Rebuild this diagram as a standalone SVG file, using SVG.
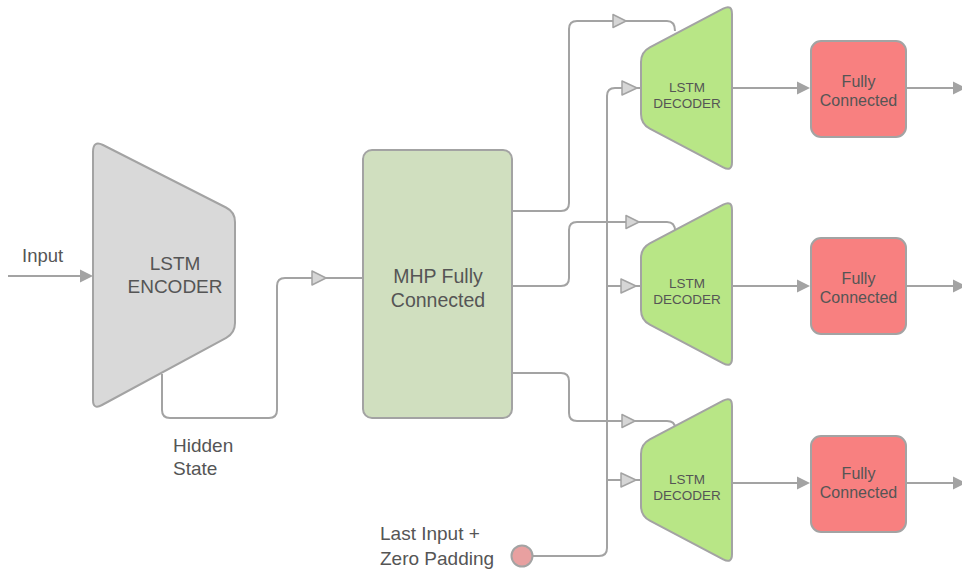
<svg xmlns="http://www.w3.org/2000/svg" width="962" height="571" viewBox="0 0 962 571">
  <style>
    .lbl { font-family: "Liberation Sans", Arial, Helvetica, sans-serif; fill: #555; }
    .wire { fill: none; stroke: #a3a3a3; stroke-width: 2; }
    .tri { fill: #d6d6d6; stroke: #a3a3a3; stroke-width: 1.5; stroke-linejoin: round; }
    .head { fill: #a3a3a3; }
    .shape { stroke: #a3a3a3; stroke-width: 2; stroke-linejoin: round; }
  </style>
  <defs>
    <path id="dec-shape" d="M641,26 V-26 Q641,-36 649.8,-40.7 L723.2,-79.3 Q732,-84 732,-74 V74 Q732,84 723.2,79.3 L649.8,40.7 Q641,36 641,26 Z"/>
  </defs>
  <rect width="962" height="571" fill="#ffffff"/>

  <!-- connectors -->
  <g id="connectors">
    <!-- input -->
    <path class="wire" d="M8,276 H82"/>
    <polygon class="head" points="80,269.5 93,276 80,282.5"/>
    <!-- hidden state into MHP -->
    <path class="wire" d="M162,374 V410 Q162,418 170,418 H269 Q277,418 277,410 V286 Q277,278 285,278 H363"/>
    <polygon class="tri" points="312,271 326,278 312,285"/>
    <!-- MHP to decoder top inputs -->
    <path class="wire" d="M512,211 H561 Q569,211 569,203 V29 Q569,21 577,21 H667 Q675,21 675,31"/>
    <polygon class="tri" points="613,14.5 626,21 613,27.5"/>
    <path class="wire" d="M512,286 H561 Q569,286 569,278 V230 Q569,222 577,222 H667 Q675,222 675,231"/>
    <polygon class="tri" points="626,215.5 639,222 626,228.5"/>
    <path class="wire" d="M512,373 H561 Q569,373 569,381 V413 Q569,421 577,421 H667 Q675,421 675,428"/>
    <polygon class="tri" points="622,414.5 635,421 622,427.5"/>
    <!-- last input + zero padding to decoder side inputs -->
    <path class="wire" d="M533,556 H599 Q607,556 607,548 V96 Q607,88 615,88 H641"/>
    <path class="wire" d="M607,286 H641"/>
    <path class="wire" d="M607,480 H641"/>
    <polygon class="tri" points="622,81 637,88 622,95"/>
    <polygon class="tri" points="621,279 636,286 621,293"/>
    <polygon class="tri" points="621,473 636,480 621,487"/>
    <!-- decoders to fully connected -->
    <path class="wire" d="M732,88 H799"/>
    <polygon class="head" points="797,81.5 810,88 797,94.5"/>
    <path class="wire" d="M732,286 H799"/>
    <polygon class="head" points="797,279.5 810,286 797,292.5"/>
    <path class="wire" d="M732,483 H799"/>
    <polygon class="head" points="797,476.5 810,483 797,489.5"/>
    <!-- outputs -->
    <path class="wire" d="M907,88 H955"/>
    <polygon class="head" points="953,81.5 966,88 953,94.5"/>
    <path class="wire" d="M907,286 H955"/>
    <polygon class="head" points="953,279.5 966,286 953,292.5"/>
    <path class="wire" d="M907,483 H955"/>
    <polygon class="head" points="953,476.5 966,483 953,489.5"/>
  </g>

  <!-- labels without boxes -->
  <g id="input-label">
    <text class="lbl" x="22" y="262" font-size="18.5">Input</text>
  </g>
  <g id="hidden-state-label">
    <text class="lbl" x="173" y="452" font-size="19">Hidden</text>
    <text class="lbl" x="173" y="475" font-size="19">State</text>
  </g>

  <!-- encoder -->
  <g id="encoder">
    <path class="shape" fill="#d9d9d9" d="M93,400 V152 Q93,140 103,145 L226,207.5 Q235,212 235,222 V323 Q235,333 226.2,337.8 L102,405 Q93,410 93,400 Z"/>
    <text class="lbl" x="175" y="270" font-size="19" text-anchor="middle">LSTM</text>
    <text class="lbl" x="175" y="293" font-size="19" text-anchor="middle">ENCODER</text>
  </g>

  <!-- MHP fully connected -->
  <g id="mhp">
    <rect class="shape" fill="#d0dfbf" x="363" y="150" width="149" height="268" rx="9"/>
    <text class="lbl" x="438" y="283" font-size="19.5" text-anchor="middle">MHP Fully</text>
    <text class="lbl" x="438" y="307" font-size="19.5" text-anchor="middle">Connected</text>
  </g>

  <!-- decoders -->
  <g id="decoder-1">
    <use href="#dec-shape" class="shape" fill="#b8e686" transform="translate(0,88)"/>
    <text class="lbl" x="687" y="92" font-size="13.5" text-anchor="middle">LSTM</text>
    <text class="lbl" x="687" y="108" font-size="13.5" text-anchor="middle">DECODER</text>
  </g>
  <g id="decoder-2">
    <use href="#dec-shape" class="shape" fill="#b8e686" transform="translate(0,284)"/>
    <text class="lbl" x="687" y="288" font-size="13.5" text-anchor="middle">LSTM</text>
    <text class="lbl" x="687" y="304" font-size="13.5" text-anchor="middle">DECODER</text>
  </g>
  <g id="decoder-3">
    <use href="#dec-shape" class="shape" fill="#b8e686" transform="translate(0,480)"/>
    <text class="lbl" x="687" y="484" font-size="13.5" text-anchor="middle">LSTM</text>
    <text class="lbl" x="687" y="500" font-size="13.5" text-anchor="middle">DECODER</text>
  </g>

  <!-- fully connected heads -->
  <g id="fc-1">
    <rect class="shape" fill="#f88080" x="811" y="41" width="95" height="96" rx="10"/>
    <text class="lbl" x="858.5" y="87" font-size="16" text-anchor="middle">Fully</text>
    <text class="lbl" x="858.5" y="106" font-size="16" text-anchor="middle">Connected</text>
  </g>
  <g id="fc-2">
    <rect class="shape" fill="#f88080" x="811" y="238" width="95" height="96" rx="10"/>
    <text class="lbl" x="858.5" y="284" font-size="16" text-anchor="middle">Fully</text>
    <text class="lbl" x="858.5" y="303" font-size="16" text-anchor="middle">Connected</text>
  </g>
  <g id="fc-3">
    <rect class="shape" fill="#f88080" x="811" y="436" width="95" height="96" rx="10"/>
    <text class="lbl" x="858.5" y="479" font-size="16" text-anchor="middle">Fully</text>
    <text class="lbl" x="858.5" y="498" font-size="16" text-anchor="middle">Connected</text>
  </g>

  <!-- last input + zero padding source -->
  <g id="padding-source">
    <circle class="shape" fill="#e8a0a0" cx="522" cy="556" r="10.5"/>
    <text class="lbl" x="380" y="540" font-size="19">Last Input +</text>
    <text class="lbl" x="380" y="565" font-size="19">Zero Padding</text>
  </g>
</svg>
